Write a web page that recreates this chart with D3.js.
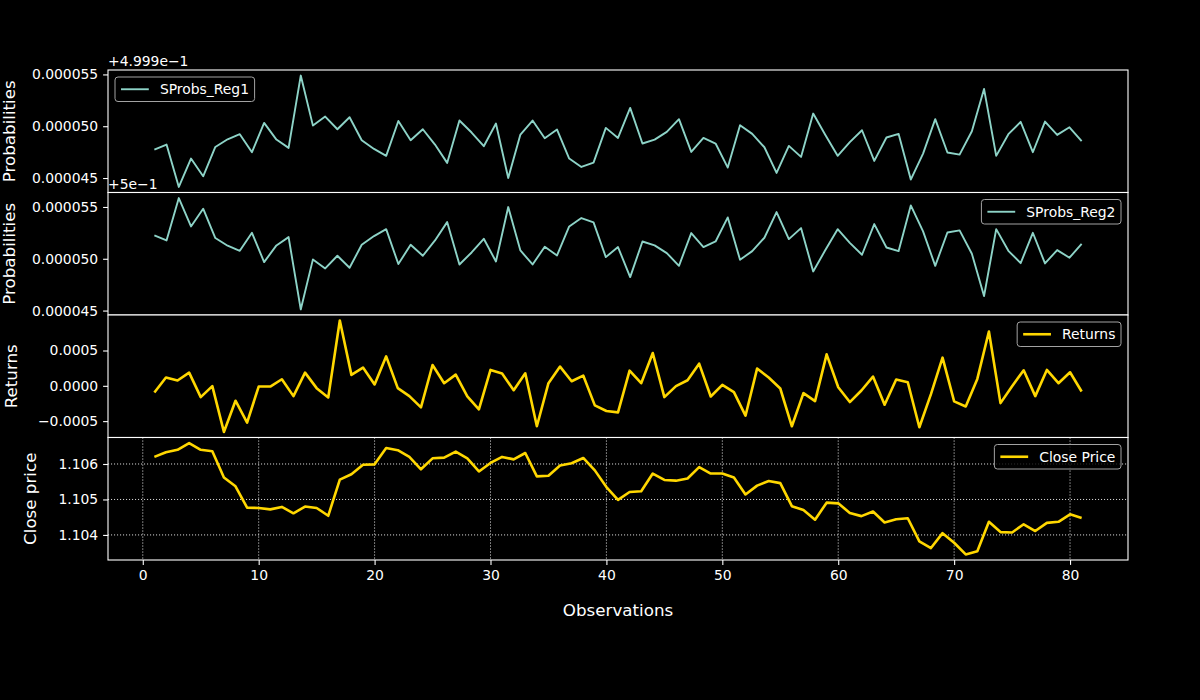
<!DOCTYPE html>
<html>
<head>
<meta charset="utf-8">
<script src="https://cdn.jsdelivr.net/npm/d3@7"></script>
<style>
body { margin: 0; background: #000; }
svg { display: block; font-family: "DejaVu Sans", sans-serif; }
</style>
</head>
<body>
<svg width="1200" height="700"></svg>
<script>
// observation numbers of the returns / close price series
const obs = d3.range(1, 82);

// the state probabilities have 77 points spread over the same span
const probObs = [1.00, 2.05, 3.11, 4.16, 5.21, 6.26, 7.32, 8.37, 9.42, 10.47,
  11.53, 12.58, 13.63, 14.68, 15.74, 16.79, 17.84, 18.89, 19.95, 21.00,
  22.05, 23.11, 24.16, 25.21, 26.26, 27.32, 28.37, 29.42, 30.47, 31.53,
  32.58, 33.63, 34.68, 35.74, 36.79, 37.84, 38.89, 39.95, 41.00, 42.05,
  43.11, 44.16, 45.21, 46.26, 47.32, 48.37, 49.42, 50.47, 51.53, 52.58,
  53.63, 54.68, 55.74, 56.79, 57.84, 58.89, 59.95, 61.00, 62.05, 63.11,
  64.16, 65.21, 66.26, 67.32, 68.37, 69.42, 70.47, 71.53, 72.58, 73.63,
  74.68, 75.74, 76.79, 77.84, 78.89, 79.95, 81.00];

// SProbs_Reg1 minus 0.4999, in units of 1e-6
const reg1 = [47.75, 48.23, 44.14, 46.88, 45.17, 48.00, 48.74, 49.23, 47.49, 50.32,
  48.71, 47.91, 54.89, 50.06, 50.93, 49.71, 50.87, 48.65, 47.81, 47.14,
  50.51, 48.65, 49.71, 48.23, 46.46, 50.55, 49.39, 48.07, 50.26, 45.01,
  49.20, 50.55, 48.84, 49.68, 46.88, 46.07, 46.49, 49.84, 48.87, 51.77,
  48.33, 48.71, 49.45, 50.68, 47.52, 48.87, 48.33, 46.01, 50.10, 49.26,
  47.97, 45.49, 48.10, 47.04, 51.22, 49.16, 47.14, 48.46, 49.61, 46.65,
  48.91, 49.26, 44.85, 47.36, 50.68, 47.46, 47.26, 49.52, 53.60, 47.14,
  49.23, 50.42, 47.49, 50.45, 49.16, 49.90, 48.55];

// SProbs_Reg2 minus 0.5, in units of 1e-6
const reg2 = [52.25, 51.77, 55.86, 53.12, 54.83, 52.00, 51.26, 50.77, 52.51, 49.68,
  51.29, 52.09, 45.11, 49.94, 49.07, 50.29, 49.13, 51.35, 52.19, 52.86,
  49.49, 51.35, 50.29, 51.77, 53.54, 49.45, 50.61, 51.93, 49.74, 54.99,
  50.80, 49.45, 51.16, 50.32, 53.12, 53.93, 53.51, 50.16, 51.13, 48.23,
  51.67, 51.29, 50.55, 49.32, 52.48, 51.13, 51.67, 53.99, 49.90, 50.74,
  52.03, 54.51, 51.90, 52.96, 48.78, 50.84, 52.86, 51.54, 50.39, 53.35,
  51.09, 50.74, 55.15, 52.64, 49.32, 52.54, 52.74, 50.48, 46.40, 52.86,
  50.77, 49.58, 52.51, 49.55, 50.84, 50.10, 51.45];

const returns = [-0.000094, 0.000117, 0.000075, 0.000187, -0.000160, -0.000005, -0.000653, -0.000211, -0.000521, -0.000010,
  -0.000010, 0.000093, -0.000146, 0.000187, -0.000033, -0.000165, 0.000924, 0.000155, 0.000258, 0.000020,
  0.000417, -0.000033, -0.000146, -0.000306, 0.000295, 0.000037, 0.000159, -0.000151, -0.000334, 0.000225,
  0.000173, -0.000062, 0.000178, -0.000573, 0.000037, 0.000272, 0.000065, 0.000145, -0.000277, -0.000357,
  -0.000376, 0.000215, 0.000037, 0.000464, -0.000160, -0.000005, 0.000079, 0.000314, -0.000151, 0.000014,
  -0.000090, -0.000423, 0.000244, 0.000117, -0.000038, -0.000573, -0.000104, -0.000216, 0.000446, -0.000020,
  -0.000230, -0.000066, 0.000131, -0.000268, 0.000089, 0.000051, -0.000587, -0.000118, 0.000399, -0.000221,
  -0.000292, 0.000098, 0.000769, -0.000245, -0.000005, 0.000220, -0.000146, 0.000225, 0.000037, 0.000192, -0.000080];

const close = [1.10620, 1.10633, 1.10640, 1.10659, 1.10640, 1.10636, 1.10562, 1.10537, 1.10477, 1.10476,
  1.10472, 1.10479, 1.10461, 1.10480, 1.10476, 1.10454, 1.10556, 1.10571, 1.10598, 1.10599,
  1.10645, 1.10639, 1.10620, 1.10585, 1.10616, 1.10618, 1.10635, 1.10616, 1.10579, 1.10603,
  1.10620, 1.10613, 1.10631, 1.10565, 1.10567, 1.10596, 1.10602, 1.10617, 1.10582, 1.10535,
  1.10499, 1.10521, 1.10523, 1.10573, 1.10555, 1.10553, 1.10559, 1.10591, 1.10573, 1.10573,
  1.10562, 1.10514, 1.10539, 1.10552, 1.10546, 1.10481, 1.10470, 1.10443, 1.10491, 1.10489,
  1.10462, 1.10453, 1.10466, 1.10435, 1.10444, 1.10447, 1.10382, 1.10363, 1.10405, 1.10378,
  1.10345, 1.10354, 1.10437, 1.10408, 1.10407, 1.10430, 1.10411, 1.10434, 1.10437, 1.10458, 1.10448];

const xTicks = [0, 10, 20, 30, 40, 50, 60, 70, 80];
const probTicks = [45, 50, 55];
const returnTicks = [-0.0005, 0, 0.0005];
const closeTicks = [1.104, 1.105, 1.106];

const teal = "#8dd3c7", gold = "#ffd700";
const fs = 13.9;

const svg = d3.select("svg");
svg.append("rect").attr("width", 1200).attr("height", 700).attr("fill", "#000");

const plotLeft = 108, plotRight = 1128, plotTop = 70, ph = 122.5;

const x = d3.scaleLinear().domain([-3, 85]).range([plotLeft, plotRight]);

const panels = [
  {xs: probObs, ys: reg1, ticks: probTicks, fmt: v => (v * 1e-6).toFixed(6), color: teal, lw: 1.9,
   label: "Probabilities", labelX: 9, offset: "+4.999e\u22121", name: "SProbs_Reg1", legendLeft: true},
  {xs: probObs, ys: reg2, ticks: probTicks, fmt: v => (v * 1e-6).toFixed(6), color: teal, lw: 1.9,
   label: "Probabilities", labelX: 9, offset: "+5e\u22121", name: "SProbs_Reg2"},
  {xs: obs, ys: returns, ticks: returnTicks, fmt: d3.format(".4f"), color: gold, lw: 2.6,
   label: "Returns", labelX: 11, name: "Returns"},
  {xs: obs, ys: close, ticks: closeTicks, fmt: d3.format(".3f"), color: gold, lw: 2.6,
   label: "Close price", labelX: 30, name: "Close Price", grid: true}
];

panels.forEach((p, i) => {
  const y0 = plotTop + i * ph, y1 = y0 + ph;
  const ext = d3.extent(p.ys), pad = (ext[1] - ext[0]) * 0.05;
  const y = d3.scaleLinear().domain([ext[0] - pad, ext[1] + pad]).range([y1, y0]);
  const g = svg.append("g");

  g.append("rect").attr("x", plotLeft).attr("y", y0).attr("width", plotRight - plotLeft).attr("height", ph)
    .attr("fill", "#000");

  // dotted grid only on the price panel
  if (p.grid) {
    g.selectAll(".gx").data(xTicks).join("line")
      .attr("x1", d => x(d)).attr("x2", d => x(d)).attr("y1", y0).attr("y2", y1)
      .attr("stroke", "#d8d8d8").attr("stroke-width", 1).attr("stroke-dasharray", "1.1,1.9");
    g.selectAll(".gy").data(p.ticks).join("line")
      .attr("x1", plotLeft).attr("x2", plotRight).attr("y1", d => y(d)).attr("y2", d => y(d))
      .attr("stroke", "#d8d8d8").attr("stroke-width", 1).attr("stroke-dasharray", "1.1,1.9");
  }

  const line = d3.line().x((d, j) => x(p.xs[j])).y(d => y(d));
  g.append("path").datum(p.ys)
    .attr("d", line)
    .attr("fill", "none")
    .attr("stroke", p.color)
    .attr("stroke-width", p.lw)
    .attr("stroke-linejoin", "round");

  // frame
  g.append("rect").attr("x", plotLeft).attr("y", y0).attr("width", plotRight - plotLeft).attr("height", ph)
    .attr("fill", "none").attr("stroke", "#fff").attr("stroke-width", 1.1);

  const ay = g.append("g")
    .attr("transform", `translate(${plotLeft},0)`)
    .call(d3.axisLeft(y).tickValues(p.ticks).tickFormat(p.fmt).tickSize(4.9).tickPadding(4.9));
  ay.select(".domain").remove();
  ay.attr("font-family", null).attr("font-size", fs).style("color", "#fff");
  ay.selectAll("line").attr("stroke-width", 1.1);

  svg.append("text")
    .attr("transform", `translate(${p.labelX},${(y0 + y1) / 2}) rotate(-90)`)
    .attr("text-anchor", "middle")
    .attr("dominant-baseline", "central")
    .attr("fill", "#fff")
    .attr("font-size", 16.7)
    .text(p.label);

  if (p.offset) {
    svg.append("text")
      .attr("x", plotLeft).attr("y", y0 - 4)
      .attr("fill", "#fff").attr("font-size", fs)
      .text(p.offset);
  }

  // legend
  const lg = svg.append("g");
  const txt = lg.append("text").attr("fill", "#fff").attr("font-size", fs).text(p.name);
  const tw = txt.node().getComputedTextLength();
  const bw = 5.6 + 27.8 + 11.1 + tw + 6, bh = 24.5;
  const bx = p.legendLeft ? plotLeft + 7 : plotRight - 7 - bw, by = y0 + 7;
  lg.insert("rect", "text")
    .attr("x", bx).attr("y", by).attr("width", bw).attr("height", bh).attr("rx", 3)
    .attr("fill", "#000").attr("fill-opacity", 0.8)
    .attr("stroke", "#a3a3a3").attr("stroke-width", 1);
  lg.append("line")
    .attr("x1", bx + 6).attr("x2", bx + 6 + 27.8)
    .attr("y1", by + bh / 2).attr("y2", by + bh / 2)
    .attr("stroke", p.color).attr("stroke-width", p.lw);
  txt.attr("x", bx + 6 + 27.8 + 11.1).attr("y", by + bh / 2 + 5);

  if (i === panels.length - 1) {
    const ax = svg.append("g")
      .attr("transform", `translate(0,${y1})`)
      .call(d3.axisBottom(x).tickValues(xTicks).tickSize(4.9).tickPadding(4.9));
    ax.select(".domain").remove();
    ax.attr("font-family", null).attr("font-size", fs).style("color", "#fff");
    ax.selectAll("line").attr("stroke-width", 1.1);
  }
});

svg.append("text")
  .attr("x", (plotLeft + plotRight) / 2).attr("y", 616)
  .attr("text-anchor", "middle")
  .attr("fill", "#fff")
  .attr("font-size", 16.7)
  .text("Observations");
</script>
</body>
</html>
